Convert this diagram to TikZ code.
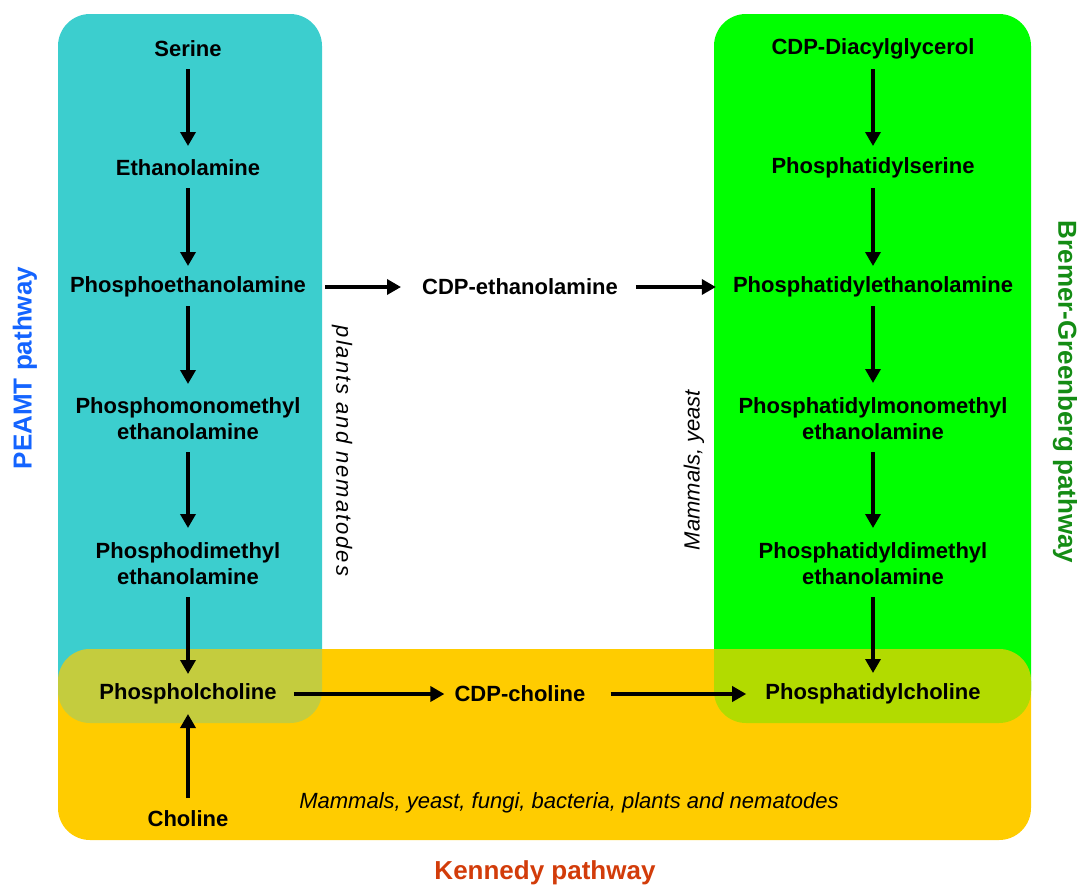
\documentclass[tikz,border=0pt]{standalone}
\usepackage{fontspec}
\setmainfont{Liberation Sans}
\usetikzlibrary{arrows.meta}
\definecolor{cyanbox}{RGB}{60,206,206}
\definecolor{greenbox}{RGB}{0,255,0}
\definecolor{yellowbox}{RGB}{255,204,0}
\definecolor{peamtblue}{RGB}{20,100,255}
\definecolor{bgreen}{RGB}{20,140,20}
\definecolor{kred}{RGB}{210,60,10}
\tikzset{
  mol/.style={font=\fontsize{22}{26}\selectfont\bfseries, align=center, inner sep=0pt},
  note/.style={font=\fontsize{22}{26}\selectfont\itshape, inner sep=0pt},
  plabel/.style={font=\fontsize{26}{30}\selectfont\bfseries, inner sep=0pt},
  arr/.style={line width=3.4pt, -{Triangle[length=14pt,width=15pt]}},
  region/.style={rounded corners=32pt}
}
\begin{document}
\begin{tikzpicture}[x=1pt,y=-1pt]
\useasboundingbox (0,0) rectangle (1077,886);
% regions
\fill[cyanbox, region] (58,14) rectangle (322,723);
\fill[greenbox, region] (714,14) rectangle (1031,723);
\fill[yellowbox, region] (58,649) rectangle (1031,840);
\begin{scope}
  \clip[region] (58,649) rectangle (1031,840);
  \fill[cyanbox, region, opacity=0.3] (58,14) rectangle (322,723);
  \fill[greenbox, region, opacity=0.3] (714,14) rectangle (1031,723);
\end{scope}
% left column
\node[mol] (ser) at (188,49) {Serine};
\node[mol] (eta) at (188,168) {Ethanolamine};
\node[mol] (peta) at (188,287) {Phosphoethanolamine};
\node[mol] (pmme) at (188,419) {Phosphomonomethyl\\ethanolamine};
\node[mol] (pdme) at (188,564) {Phosphodimethyl\\ethanolamine};
\node[mol] (pcho) at (188,694) {Phospholcholine};
\node[mol] (cho) at (188,819) {Choline};
% middle
\node[mol] (cdpe) at (520,287) {CDP-ethanolamine};
\node[mol] (cdpc) at (520,694) {CDP-choline};
% right column
\node[mol] (cdpd) at (873,49) {CDP-Diacylglycerol};
\node[mol] (ps) at (873,168) {Phosphatidylserine};
\node[mol] (pe) at (873,287) {Phosphatidylethanolamine};
\node[mol] (pmm) at (873,419) {Phosphatidylmonomethyl\\ethanolamine};
\node[mol] (pdm) at (873,564) {Phosphatidyldimethyl\\ethanolamine};
\node[mol] (pc) at (873,694) {Phosphatidylcholine};
% notes
\node[note, rotate=-90, font=\fontsize{22}{26}\selectfont\itshape\addfontfeature{LetterSpace=9}] (plants) at (342,451) {plants and nematodes};
\node[note, rotate=90] (mamy) at (694,470) {Mammals, yeast};
\node[note] (all) at (569,803) {Mammals, yeast, fungi, bacteria, plants and nematodes};
% pathway labels
\node[plabel, text=peamtblue, rotate=90] (peamt) at (25,368) {PEAMT pathway};
\node[plabel, text=bgreen, rotate=-90] (bg) at (1065,392) {Bremer-Greenberg pathway};
\node[plabel, text=kred] (ken) at (545,873) {Kennedy pathway};
% left arrows
\draw[arr] ([yshift=-20pt]ser.center) -- ([yshift=22pt]eta.center);
\draw[arr] ([yshift=-20pt]eta.center) -- ([yshift=21pt]peta.center);
\draw[arr] ([yshift=-19pt]peta.center) -- ([yshift=35pt]pmme.center);
\draw[arr] ([yshift=-33pt]pmme.center) -- ([yshift=36pt]pdme.center);
\draw[arr] ([yshift=-33pt]pdme.center) -- ([yshift=20pt]pcho.center);
\draw[arr] ([yshift=21pt]cho.center) -- ([yshift=-20pt]pcho.center);
% right arrows
\draw[arr] ([yshift=-20pt]cdpd.center) -- ([yshift=22pt]ps.center);
\draw[arr] ([yshift=-20pt]ps.center) -- ([yshift=21pt]pe.center);
\draw[arr] ([yshift=-19pt]pe.center) -- ([yshift=36pt]pmm.center);
\draw[arr] ([yshift=-33pt]pmm.center) -- ([yshift=36pt]pdm.center);
\draw[arr] ([yshift=-33pt]pdm.center) -- ([yshift=21pt]pc.center);
% horizontal arrows
\draw[arr] ([xshift=19pt]peta.east) -- ([xshift=-21pt]cdpe.west);
\draw[arr] ([xshift=18pt]cdpe.east) -- ([xshift=-17pt]pe.west);
\draw[arr] ([xshift=17pt]pcho.east) -- ([xshift=-10pt]cdpc.west);
\draw[arr] ([xshift=25pt]cdpc.east) -- ([xshift=-19pt]pc.west);
\end{tikzpicture}
\end{document}
